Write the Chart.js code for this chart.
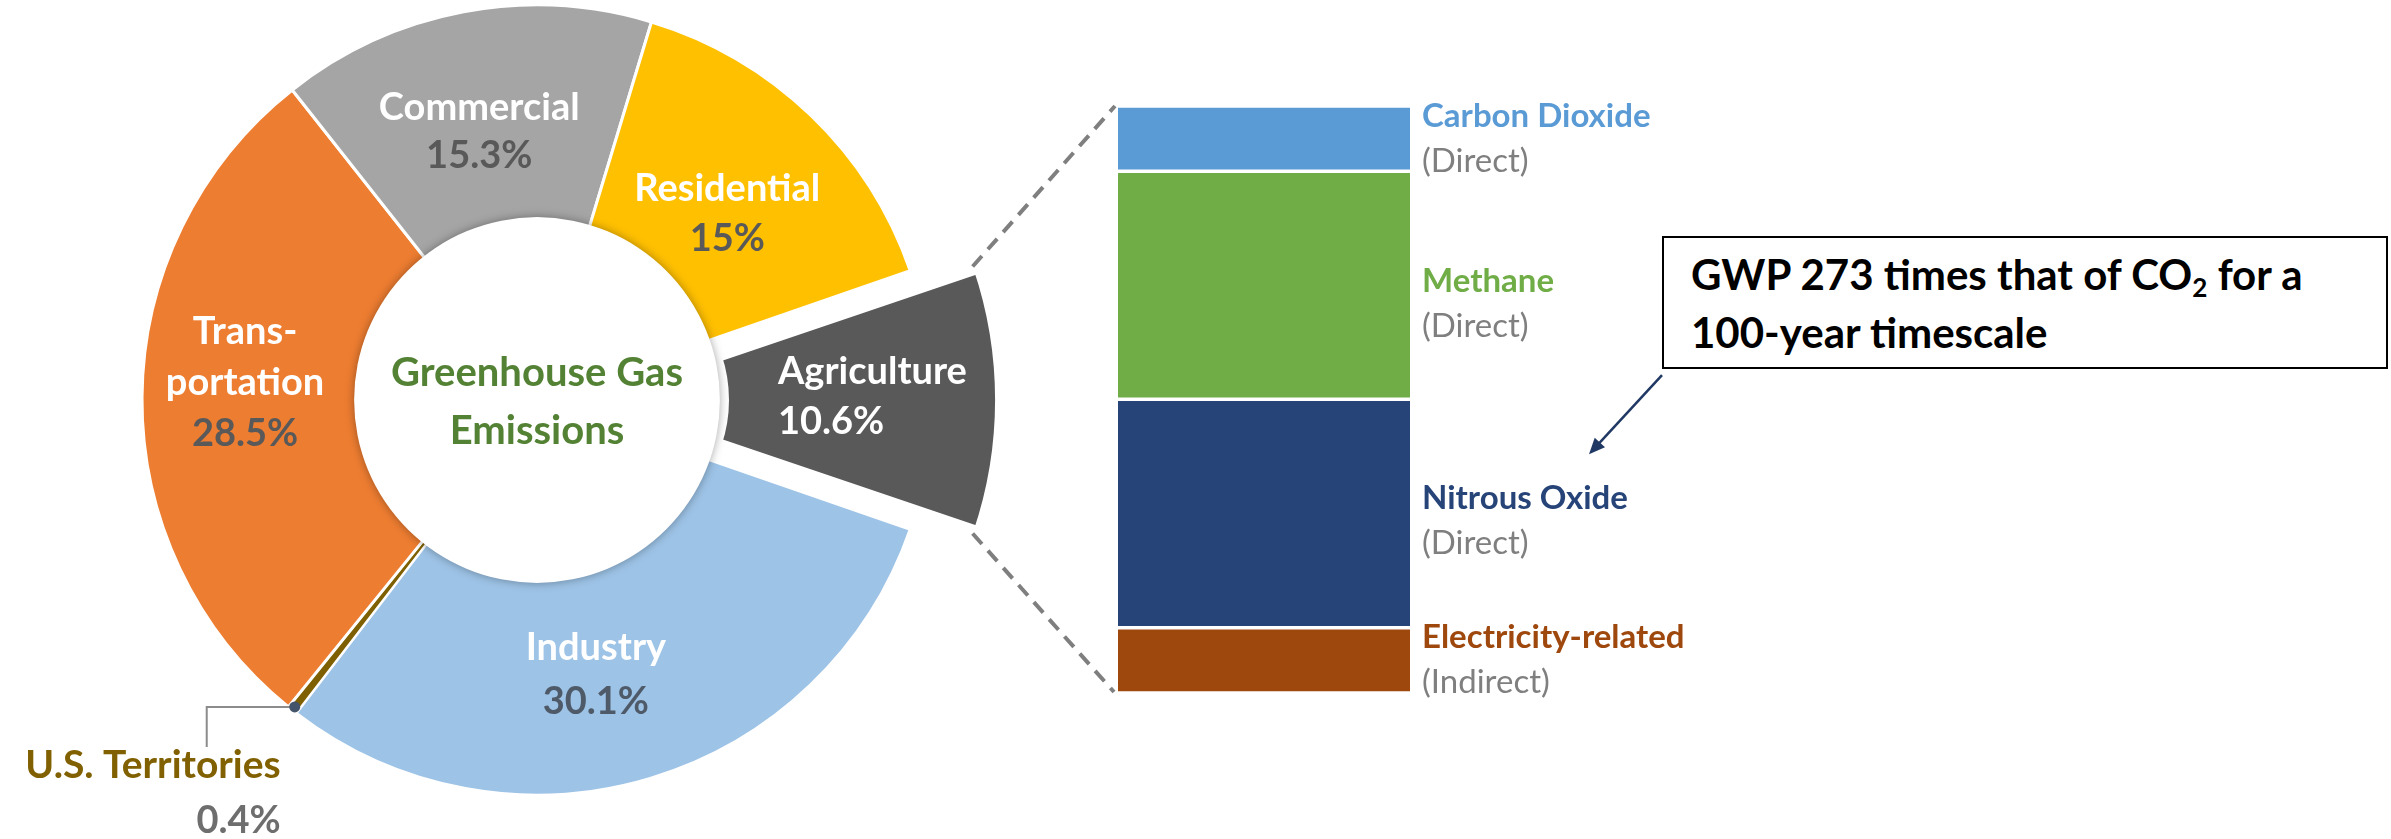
<!DOCTYPE html>
<html><head><meta charset="utf-8">
<script src="https://cdn.jsdelivr.net/npm/chart.js@4.4.1/dist/chart.umd.min.js"></script>
<style>
html,body{margin:0;padding:0;background:#fff;width:2391px;height:839px;overflow:hidden;}
#wrap{position:relative;width:2391px;height:839px;}
canvas{position:absolute;left:0;top:0;}
#callout{position:absolute;left:1662px;top:236px;width:726px;height:133px;box-sizing:border-box;border:2px solid #000;
 font-family:Lato,"Open Sans",sans-serif;font-weight:700;font-size:42px;line-height:58px;padding:7px 0 0 27px;color:#000;background:#fff;white-space:nowrap;}
#callout sub{font-size:0.62em;vertical-align:-0.28em;line-height:0;}
</style></head>
<body><div id="wrap">
<canvas id="donut" width="2391" height="839"></canvas>
<canvas id="bar" width="2391" height="839"></canvas>
<div id="callout">GWP 273 times that of CO<sub>2</sub> for a<br>100-year timescale</div>
</div>
<script>
// ---------- data ----------
const sectors = ['Agriculture', 'Industry', 'U.S. Territories', 'Transportation', 'Commercial', 'Residential'];
const sectorShares = [10.6, 30.1, 0.4, 28.5, 15.3, 15];
const sectorNameLines = [['Agriculture'], ['Industry'], ['U.S. Territories'], ['Trans-', 'portation'], ['Commercial'], ['Residential']];
const sectorShareText = ['10.6%', '30.1%', '0.4%', '28.5%', '15.3%', '15%'];
const centerTitle = ['Greenhouse Gas', 'Emissions'];
const gases = ['Carbon Dioxide', 'Methane', 'Nitrous Oxide', 'Electricity-related'];
const gasKinds = ['(Direct)', '(Direct)', '(Direct)', '(Indirect)'];
const gasShares = [11.1, 38.8, 38.9, 11.1];

// ---------- styles / layout ----------
const FONT = 'Lato, "Open Sans", sans-serif';
const sectorColors = ['#595959', '#9DC3E6', '#7F6000', '#ED7D31', '#A5A5A5', '#FFC000'];
const nameColors = ['#FFFFFF', '#FFFFFF', '#806000', '#FFFFFF', '#FFFFFF', '#FFFFFF'];
const shareColors = ['#FFFFFF', '#4F5A69', '#6E6E6E', '#595959', '#595959', '#595959'];
// label block nudges relative to the ring-middle point of each slice
const labelNudge = [
  {dx: -98, dy: -3, align: 'left', pitch: 50},
  {dx: -24, dy: -2, align: 'center', pitch: 54},
  null,
  {dx: -3, dy: -15, align: 'center', pitch: 51},
  {dx: -4, dy: 16, align: 'center', pitch: 48},
  {dx: -10, dy: 22, align: 'center', pitch: 50}
];
const gasColors = ['#5B9BD5', '#70AD47', '#264478', '#9E480E'];
const gasLabelDy = [0, 19, 7, -1];
const agriShift = 50;       // explode distance in px
const holeRatio = 0.463;    // white centre disc radius / outer radius
const total = sectorShares.reduce((a, b) => a + b, 0);
const gasTotal = gasShares.reduce((a, b) => a + b, 0);

function drawLines(ctx, lines, x, yc, pitch, align) {
  const n = lines.length;
  lines.forEach((ln, k) => {
    ctx.font = ln.font;
    ctx.fillStyle = ln.color;
    ctx.textAlign = align;
    ctx.textBaseline = 'middle';
    ctx.fillText(ln.text, x, yc + (k - (n - 1) / 2) * pitch);
  });
}

const donutDecor = {
  id: 'donutDecor',
  afterDatasetsDraw(chart) {
    const ctx = chart.ctx;
    const arcs = chart.getDatasetMeta(0).data;
    const a0 = arcs[1];
    const cx = a0.x, cy = a0.y, R = a0.outerRadius;
    const holeR = R * holeRatio;
    // white centre disc with soft shadow
    ctx.save();
    ctx.beginPath();
    ctx.arc(cx, cy, holeR, 0, Math.PI * 2);
    ctx.shadowColor = 'rgba(0,0,0,0.35)';
    ctx.shadowBlur = 10;
    ctx.fillStyle = '#fff';
    ctx.fill();
    ctx.restore();
    // centre title
    ctx.save();
    drawLines(ctx, centerTitle.map(t => ({text: t, font: `700 40px ${FONT}`, color: '#548235'})), cx, cy + 2, 58, 'center');
    ctx.restore();
    // slice labels
    const rMid = (holeR + R) / 2;
    arcs.forEach((arc, i) => {
      const nudge = labelNudge[i];
      if (!nudge) return;
      const mid = (arc.startAngle + arc.endAngle) / 2;
      const shift = (arc.options.offset || 0) / 4;
      const ax = cx + Math.cos(mid) * (rMid + shift) + nudge.dx;
      const ay = cy + Math.sin(mid) * (rMid + shift) + nudge.dy;
      const lines = sectorNameLines[i].map(t => ({text: t, font: `700 38px ${FONT}`, color: nameColors[i]}))
        .concat([{text: sectorShareText[i], font: `700 38px ${FONT}`, color: shareColors[i]}]);
      ctx.save();
      drawLines(ctx, lines, ax, ay, nudge.pitch, nudge.align);
      ctx.restore();
    });
    // U.S. Territories callout
    const t = arcs[2];
    const tm = (t.startAngle + t.endAngle) / 2;
    const dx = cx + Math.cos(tm) * (R - 4), dy = cy + Math.sin(tm) * (R - 4);
    ctx.save();
    ctx.strokeStyle = '#8C8C8C';
    ctx.lineWidth = 2;
    ctx.beginPath();
    ctx.moveTo(dx, dy);
    ctx.lineTo(dx - 88, dy);
    ctx.lineTo(dx - 88, dy + 40);
    ctx.stroke();
    ctx.fillStyle = '#44546A';
    ctx.beginPath();
    ctx.arc(dx, dy, 5.5, 0, Math.PI * 2);
    ctx.fill();
    drawLines(ctx, [
      {text: sectorNameLines[2][0], font: `700 39px ${FONT}`, color: nameColors[2]},
      {text: sectorShareText[2], font: `700 38px ${FONT}`, color: shareColors[2]}
    ], dx - 14, dy + 86, 55, 'right');
    ctx.restore();
  }
};

const donut = new Chart(document.getElementById('donut'), {
  type: 'doughnut',
  data: {
    labels: sectors,
    datasets: [{
      data: sectorShares,
      backgroundColor: sectorColors,
      borderColor: '#FFFFFF',
      borderWidth: [12, 3, 2, 3, 3, 3],
      offset: [agriShift * 4, 0, 0, 0, 0, 0],
      hoverOffset: 0,
      clip: false
    }]
  },
  options: {
    responsive: false,
    animation: false,
    events: [],
    rotation: 90 - (sectorShares[0] / total) * 180,
    radius: 395,
    cutout: '29.6%',
    layout: {padding: {left: 0, right: 1317, top: 0, bottom: 39}},
    plugins: {legend: {display: false}, tooltip: {enabled: false}}
  },
  plugins: [donutDecor]
});

const barDecor = {
  id: 'barDecor',
  afterDatasetsDraw(chart) {
    const ctx = chart.ctx;
    let left = 0, top = Infinity, bottom = -Infinity, right = 0;
    gases.forEach((g, i) => {
      const el = chart.getDatasetMeta(i).data[0];
      const t = Math.min(el.y, el.base), b = Math.max(el.y, el.base);
      left = el.x - el.width / 2; right = el.x + el.width / 2;
      top = Math.min(top, t); bottom = Math.max(bottom, b);
      const yc = (t + b) / 2 + gasLabelDy[i];
      ctx.save();
      drawLines(ctx, [
        {text: g, font: `700 33px ${FONT}`, color: gasColors[i]},
        {text: gasKinds[i], font: `400 33px ${FONT}`, color: '#7F7F7F'}
      ], right + 12, yc, 45, 'left');
      ctx.restore();
    });
    // dashed connectors from the exploded Agriculture slice
    const a = donut.getDatasetMeta(0).data[0];
    const off = (a.options.offset || 0) / 4;
    const circ = a.endAngle - a.startAngle;
    const fix = 1 - Math.sin(Math.min(Math.PI, circ));
    const mid = (a.startAngle + a.endAngle) / 2;
    const ox = a.x + Math.cos(mid) * off, oy = a.y + Math.sin(mid) * off;
    const R = a.outerRadius + off * fix - a.options.borderWidth / 2;
    ctx.save();
    ctx.strokeStyle = '#7F7F7F';
    ctx.lineWidth = 4;
    ctx.setLineDash([14, 9]);
    ctx.beginPath();
    ctx.moveTo(ox + R * Math.cos(a.startAngle), oy + R * Math.sin(a.startAngle));
    ctx.lineTo(left - 3, top);
    ctx.moveTo(ox + R * Math.cos(a.endAngle), oy + R * Math.sin(a.endAngle));
    ctx.lineTo(left - 4, bottom - 1);
    ctx.stroke();
    ctx.restore();
    // annotation arrow to Nitrous Oxide
    const n2o = chart.getDatasetMeta(2).data[0];
    const ex = right + 179, ey = Math.min(n2o.y, n2o.base) + 55;
    const sx = ex + 73, sy = ey - 79;
    const ang = Math.atan2(ey - sy, ex - sx);
    ctx.save();
    ctx.strokeStyle = '#203864';
    ctx.fillStyle = '#203864';
    ctx.lineWidth = 2.5;
    ctx.beginPath();
    ctx.moveTo(sx, sy);
    ctx.lineTo(ex - Math.cos(ang) * 10, ey - Math.sin(ang) * 10);
    ctx.stroke();
    ctx.beginPath();
    ctx.moveTo(ex, ey);
    ctx.lineTo(ex - Math.cos(ang) * 16 + Math.sin(ang) * 7, ey - Math.sin(ang) * 16 - Math.cos(ang) * 7);
    ctx.lineTo(ex - Math.cos(ang) * 16 - Math.sin(ang) * 7, ey - Math.sin(ang) * 16 + Math.cos(ang) * 7);
    ctx.closePath();
    ctx.fill();
    ctx.restore();
  }
};

new Chart(document.getElementById('bar'), {
  type: 'bar',
  data: {
    labels: ['Agriculture'],
    datasets: gases.map((g, i) => ({
      label: g,
      data: [gasShares[i]],
      backgroundColor: gasColors[i],
      borderColor: '#FFFFFF',
      borderWidth: {top: 2, bottom: 2, left: 0, right: 0},
      borderSkipped: false,
      barPercentage: 1,
      categoryPercentage: 1
    }))
  },
  options: {
    responsive: false,
    animation: false,
    events: [],
    layout: {padding: {left: 1118, right: 981, top: 106, bottom: 146}},
    scales: {
      x: {display: false, stacked: true},
      y: {display: false, stacked: true, reverse: true, min: 0, max: gasTotal}
    },
    plugins: {legend: {display: false}, tooltip: {enabled: false}}
  },
  plugins: [barDecor]
});
</script>
</body></html>
